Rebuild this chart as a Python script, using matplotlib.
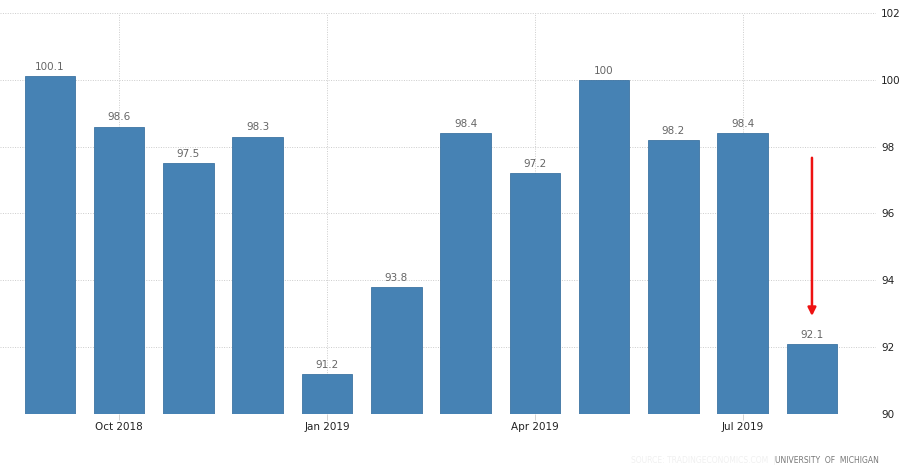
import matplotlib
matplotlib.use('Agg')
import matplotlib.pyplot as plt

# monthly values, Sep 2018 .. Aug 2019
months = ['Sep 2018', 'Oct 2018', 'Nov 2018', 'Dec 2018', 'Jan 2019', 'Feb 2019',
          'Mar 2019', 'Apr 2019', 'May 2019', 'Jun 2019', 'Jul 2019', 'Aug 2019']
values = [100.1, 98.6, 97.5, 98.3, 91.2, 93.8, 98.4, 97.2, 100.0, 98.2, 98.4, 92.1]
tick_months = ['Oct 2018', 'Jan 2019', 'Apr 2019', 'Jul 2019']
y_ticks = [90, 92, 94, 96, 98, 100, 102]
arrow_from = 97.75
arrow_to = 92.85

plt.rcParams['font.family'] = ['DejaVu Sans']

fig = plt.figure(figsize=(9, 4.74), dpi=100)
ax = fig.add_axes([0.0, 0.1266, 0.973, 0.846])

x = list(range(len(months)))
ax.bar(x, values, width=0.73, bottom=0, color='#4682b4', edgecolor='#3d74a3', linewidth=0.6, zorder=3)

for xi, v in zip(x, values):
    lab = ('%g' % v) if v != int(v) else '%d' % v
    ax.annotate(lab, (xi, v), xytext=(0, 3), textcoords='offset points',
                ha='center', va='bottom', fontsize=7.5, color='#666666')

ax.set_ylim(90, 102)
ax.set_xlim(-0.72, 11.92)
ax.set_yticks(y_ticks)
ax.set_yticklabels([str(t) for t in y_ticks])
ax.yaxis.tick_right()
ax.tick_params(axis='y', length=0, pad=4, labelsize=7.5, labelcolor='#222222')

tpos = [months.index(m) for m in tick_months]
ax.set_xticks(tpos)
ax.set_xticklabels(tick_months)
ax.tick_params(axis='x', length=4, width=0.6, color='#cccccc', pad=2, labelsize=7.5, labelcolor='#222222')

ax.grid(True, linestyle=(0, (1, 1.5)), color='#cccccc', linewidth=0.7, zorder=0)
for s in ax.spines.values():
    s.set_visible(False)

ax.annotate('', xy=(11, arrow_to), xytext=(11, arrow_from),
            arrowprops=dict(arrowstyle='-|>', color='#ee1111', lw=1.8, mutation_scale=12),
            zorder=5)

fig.text(0.862, 0.018, 'SOURCE: TRADINGECONOMICS.COM  |', ha='right', va='bottom',
         fontsize=5.5, color='#f0f0f0')
fig.text(0.976, 0.018, 'UNIVERSITY  OF  MICHIGAN',
         ha='right', va='bottom', fontsize=5.5, color='#777777')

fig.savefig('out.png', dpi=100)
